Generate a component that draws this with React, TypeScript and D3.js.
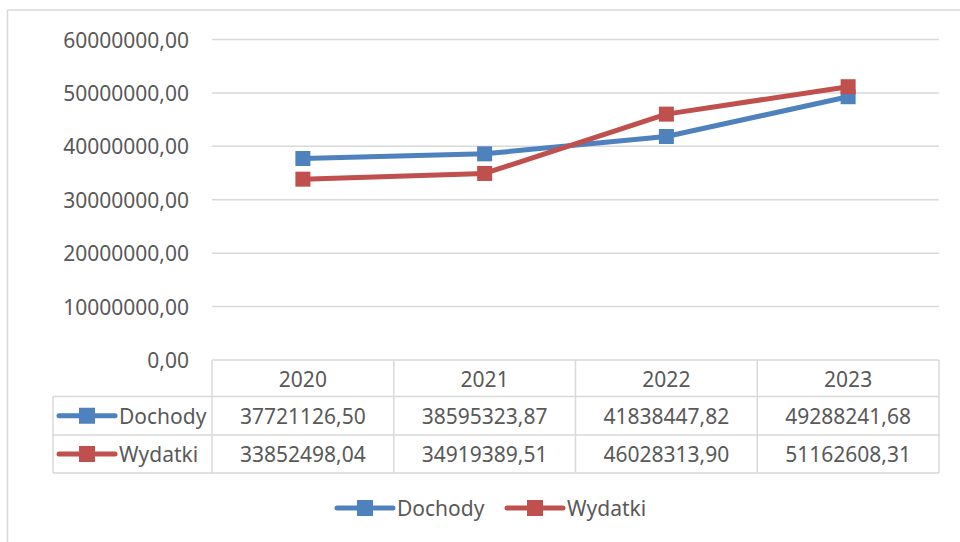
import React from "react";
import * as d3 from "d3";

const years = ["2020", "2021", "2022", "2023"];
const dochody = [37721126.5, 38595323.87, 41838447.82, 49288241.68];
const wydatki = [33852498.04, 34919389.51, 46028313.9, 51162608.31];
const dochodyLabels = ["37721126,50", "38595323,87", "41838447,82", "49288241,68"];
const wydatkiLabels = ["33852498,04", "34919389,51", "46028313,90", "51162608,31"];
const yTicks = [0, 10000000, 20000000, 30000000, 40000000, 50000000, 60000000];
const seriesNames = ["Dochody", "Wydatki"];

const W = 960;
const H = 542;
const BLUE = "#4F81BD";
const RED = "#C0504D";
const GRID = "#D9D9D9";
const TEXT = "#595959";
const FONT = "'Noto Sans', 'Open Sans', sans-serif";
const FS = 21;

function fmt(v: number) {
  return d3.format(".2f")(v).replace(".", ",");
}

function LegendKey({ x, y, color }: { x: number; y: number; color: string }) {
  return (
    <g>
      <line x1={x} x2={x + 56} y1={y} y2={y} stroke={color} strokeWidth={5} strokeLinecap="round" />
      <rect x={x + 20} y={y - 8} width={16} height={16} fill={color} />
    </g>
  );
}

export default function App() {
  const x = d3.scaleBand<string>().domain(years).range([212, 939]);
  const y = d3.scaleLinear().domain([0, 60000000]).range([360, 39.5]);
  const line = d3
    .line<number>()
    .x((_, i) => (x(years[i]) as number) + x.bandwidth() / 2)
    .y((d) => y(d));

  const series = [
    { name: seriesNames[0], values: dochody, labels: dochodyLabels, color: BLUE },
    { name: seriesNames[1], values: wydatki, labels: wydatkiLabels, color: RED },
  ];

  const rowTops = [360, 396.5, 435, 473];
  const tableLeft = 53;
  const colEdges = years.map((yr) => x(yr) as number).concat([939]);

  return (
    <svg
      width={W}
      height={H}
      style={{ position: "absolute", left: 0, top: 0, background: "#fff" }}
      fontFamily={FONT}
    >
      <rect x={0} y={0} width={W} height={H} fill="#fff" />
      {/* chart border */}
      <line x1={7.5} x2={W} y1={10} y2={10} stroke={GRID} strokeWidth={1.5} />
      <line x1={7.5} x2={7.5} y1={10} y2={H} stroke={GRID} strokeWidth={1.5} />

      {/* gridlines and y labels */}
      {yTicks.map((t) => (
        <g key={t}>
          {t > 0 && (
            <line x1={212} x2={939} y1={y(t)} y2={y(t)} stroke={GRID} strokeWidth={1.5} />
          )}
          <text
            x={189}
            y={y(t)}
            textAnchor="end"
            dominantBaseline="central"
            fontSize={FS}
            fill={TEXT}
          >
            {fmt(t)}
          </text>
        </g>
      ))}

      {/* data table */}
      <g stroke={GRID} strokeWidth={1.5} fill="none">
        <line x1={212} x2={939} y1={rowTops[0]} y2={rowTops[0]} />
        {rowTops.slice(1).map((r) => (
          <line key={r} x1={tableLeft} x2={939} y1={r} y2={r} />
        ))}
        {colEdges.map((c) => (
          <line key={c} x1={c} x2={c} y1={rowTops[0]} y2={rowTops[3]} />
        ))}
        <line x1={tableLeft} x2={tableLeft} y1={rowTops[1]} y2={rowTops[3]} />
      </g>
      {years.map((yr) => (
        <text
          key={yr}
          x={(x(yr) as number) + x.bandwidth() / 2}
          y={(rowTops[0] + rowTops[1]) / 2 + 1}
          textAnchor="middle"
          dominantBaseline="central"
          fontSize={FS}
          fill={TEXT}
        >
          {yr}
        </text>
      ))}
      {series.map((s, si) => {
        const cy = (rowTops[si + 1] + rowTops[si + 2]) / 2;
        return (
          <g key={s.name}>
            <LegendKey x={59} y={cy} color={s.color} />
            <text x={119} y={cy} dominantBaseline="central" fontSize={FS} fill={TEXT}>
              {s.name}
            </text>
            {s.labels.map((lab, i) => (
              <text
                key={i}
                x={(x(years[i]) as number) + x.bandwidth() / 2}
                y={cy}
                textAnchor="middle"
                dominantBaseline="central"
                fontSize={FS}
                fill={TEXT}
              >
                {lab}
              </text>
            ))}
          </g>
        );
      })}

      {/* lines */}
      {series.map((s) => (
        <g key={s.name}>
          <path d={line(s.values) as string} fill="none" stroke={s.color} strokeWidth={5} strokeLinejoin="round" />
          {s.values.map((v, i) => (
            <rect
              key={i}
              x={(x(years[i]) as number) + x.bandwidth() / 2 - 7.5}
              y={y(v) - 7.5}
              width={15}
              height={15}
              fill={s.color}
            />
          ))}
        </g>
      ))}

      {/* bottom legend */}
      <LegendKey x={337} y={508} color={BLUE} />
      <text x={397} y={508} dominantBaseline="central" fontSize={FS} fill={TEXT}>
        {seriesNames[0]}
      </text>
      <LegendKey x={507} y={508} color={RED} />
      <text x={567} y={508} dominantBaseline="central" fontSize={FS} fill={TEXT}>
        {seriesNames[1]}
      </text>
    </svg>
  );
}
